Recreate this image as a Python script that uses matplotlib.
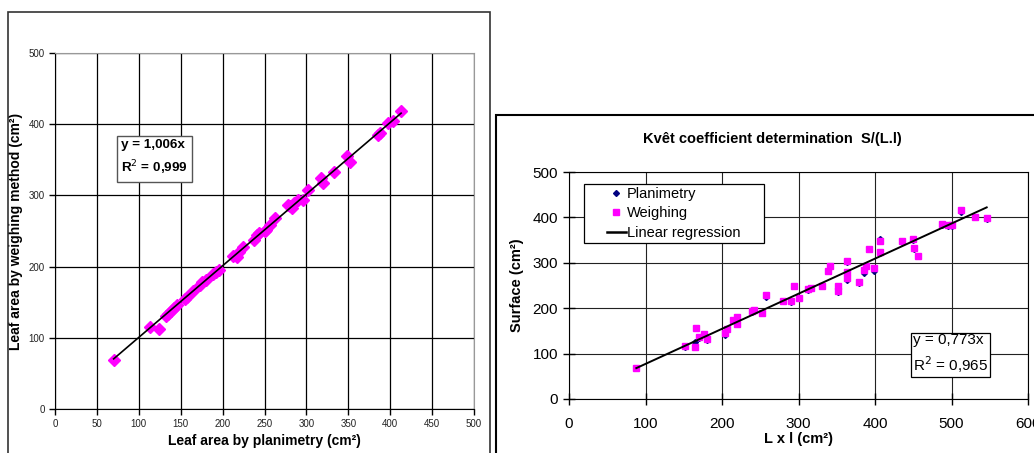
import matplotlib
matplotlib.use("Agg")
import matplotlib.pyplot as plt
from matplotlib.patches import Rectangle
from matplotlib.lines import Line2D

plt.rcParams['font.family'] = ['Liberation Sans', 'DejaVu Sans']

# left chart: leaf area planimetry vs weighing
planimetrie = [70, 113, 124, 132, 135, 138, 142, 145, 155, 157, 165, 173, 176, 180,
               188, 192, 196, 213, 217, 220, 224, 238, 241, 244, 250, 252, 257, 263,
               278, 281, 283, 285, 290, 296, 302, 318, 320, 333, 349, 352, 385, 388,
               397, 403, 413]
pesee = [69, 115, 113, 131, 134, 138, 142, 146, 155, 157, 166, 174, 178, 181,
         190, 193, 195, 215, 213, 220, 228, 238, 244, 247, 250, 251, 259, 268,
         286, 285, 282, 290, 294, 293, 307, 325, 318, 333, 355, 347, 385, 387,
         402, 404, 419]
pente_gauche = 1.006

# right chart: L x l vs surface
lxl = [88, 152, 165, 166, 170, 176, 180, 204, 207, 214, 219, 220, 239, 242,
       252, 258, 280, 290, 294, 300, 313, 316, 331, 339, 341, 351, 351, 363,
       363, 364, 379, 385, 388, 392, 399, 407, 407, 435, 450, 451, 456, 487,
       495, 501, 513, 531, 546]
surf_plani = [68, 115, 125, 156, 135, 143, 131, 142, 153, 173, 165, 178, 192, 193,
              189, 225, 215, 214, 248, 222, 240, 244, 248, 281, 292, 248, 236, 301,
              263, 278, 256, 278, 290, 330, 283, 352, 321, 346, 350, 331, 316, 384,
              382, 382, 412, 401, 396]
surf_pesee = [69, 116, 115, 157, 136, 144, 132, 146, 155, 174, 166, 180, 193, 195,
              190, 228, 215, 215, 250, 222, 242, 245, 249, 282, 293, 250, 237, 304,
              266, 280, 258, 284, 292, 331, 288, 347, 323, 347, 353, 332, 316, 385,
              383, 383, 416, 401, 399]
pente_droite = 0.773

W, H = 1034, 453
fig = plt.figure(figsize=(W / 100, H / 100), dpi=100)


def box(x0, y0, x1, y1):
    # rectangle in pixel coords (y from top)
    return [x0 / W, 1 - y1 / H, (x1 - x0) / W, (y1 - y0) / H]


# panel frames
fig.patches.append(Rectangle((8 / W, -0.1), (490 - 8) / W, 1.1 - 12 / H,
                             transform=fig.transFigure, fill=False,
                             edgecolor='#333333', lw=1.2))
fig.patches.append(Rectangle((496 / W, -0.1), 0.6, 1.1 - 115 / H,
                             transform=fig.transFigure, fill=False,
                             edgecolor='black', lw=1.5))

# ---- left chart
ax1 = fig.add_axes(box(55, 53, 474, 409))
ax1.set_xlim(0, 500)
ax1.set_ylim(0, 500)
ax1.set_xticks(range(0, 501, 50))
ax1.set_yticks(range(0, 501, 100))
ax1.grid(True, color='black', lw=0.9)
ax1.set_axisbelow(True)
for s in ['top', 'right']:
    ax1.spines[s].set_color('#999999')
ax1.tick_params(labelsize=7, length=4, width=1, direction='out', colors='black')
for t in ax1.get_xticklabels() + ax1.get_yticklabels():
    t.set_color('#222222')
ax1.set_xlabel('Leaf area by planimetry (cm²)', fontsize=10, fontweight='bold', labelpad=3)
ax1.set_ylabel('Leaf area by weighing method (cm²)', fontsize=10, fontweight='bold', labelpad=4)
ax1.plot(planimetrie, pesee, 'D', color='#ff00ff', ms=5.8, mec='#ff00ff', zorder=3)
x_fit = [min(planimetrie), max(planimetrie)]
ax1.plot(x_fit, [pente_gauche * v for v in x_fit], color='black', lw=1.2, zorder=4)
ax1.text(0.158, 0.705, 'y = 1,006x\nR$^2$ = 0,999', transform=ax1.transAxes,
         fontsize=9.7, fontweight='bold', va='center', ha='left', linespacing=1.6,
         bbox=dict(boxstyle='square,pad=0.3', fc='white', ec='#555555', lw=1))

# ---- right chart
ax2 = fig.add_axes(box(569, 172, 1028, 399))
ax2.set_xlim(0, 600)
ax2.set_ylim(0, 500)
ax2.set_xticks(range(0, 601, 100))
ax2.set_yticks(range(0, 501, 100))
ax2.grid(True, color='#222222', lw=0.8)
ax2.set_axisbelow(True)
ax2.tick_params(labelsize=11, length=8, width=1, direction='inout')
ax2.tick_params(axis='x', pad=9)
ax2.tick_params(axis='y', pad=4)
ax2.set_xlabel('L x l (cm²)', fontsize=10.5, fontweight='bold', labelpad=1)
ax2.set_ylabel('Surface (cm²)', fontsize=10.5, fontweight='bold', labelpad=6)
fig.text(772 / W, 1 - 139 / H, 'Kvêt coefficient determination  S/(L.l)', fontsize=10.5,
         fontweight='bold', ha='center', va='center')
ax2.plot(lxl, surf_plani, 'D', color='#000080', ms=3, zorder=3)
ax2.plot(lxl, surf_pesee, 's', color='#ff00ff', ms=4.8, zorder=3)
x_fit2 = [min(lxl), max(lxl)]
ax2.plot(x_fit2, [pente_droite * v for v in x_fit2], color='black', lw=1.4, zorder=4)

# legend frame + entries
ax2.add_patch(Rectangle((584 / W, 1 - 243 / H), (764 - 584) / W, (243 - 184) / H,
                        transform=fig.transFigure, fc='white', ec='black', lw=0.9,
                        zorder=4.5, clip_on=False))
handles = [Line2D([], [], marker='D', color='#000080', ls='none', ms=3),
           Line2D([], [], marker='s', color='#ff00ff', ls='none', ms=4.8),
           Line2D([], [], color='black', lw=1.8)]
leg = ax2.legend(handles, ['Planimetry', 'Weighing', 'Linear regression'],
                 loc='upper left', bbox_to_anchor=(607 / W, 1 - 187 / H),
                 bbox_transform=fig.transFigure, fontsize=10.5, frameon=False,
                 borderpad=0, handlelength=1.3, handletextpad=0.05, labelspacing=0.37,
                 borderaxespad=0)
leg.set_zorder(5)
ax2.text(0.749, 0.198, 'y = 0,773x\nR$^2$ = 0,965', transform=ax2.transAxes,
         fontsize=11, va='center', ha='left', linespacing=1.4,
         bbox=dict(boxstyle='square,pad=0.12', fc='white', ec='black', lw=0.9))

fig.savefig('out.png', dpi=100)
